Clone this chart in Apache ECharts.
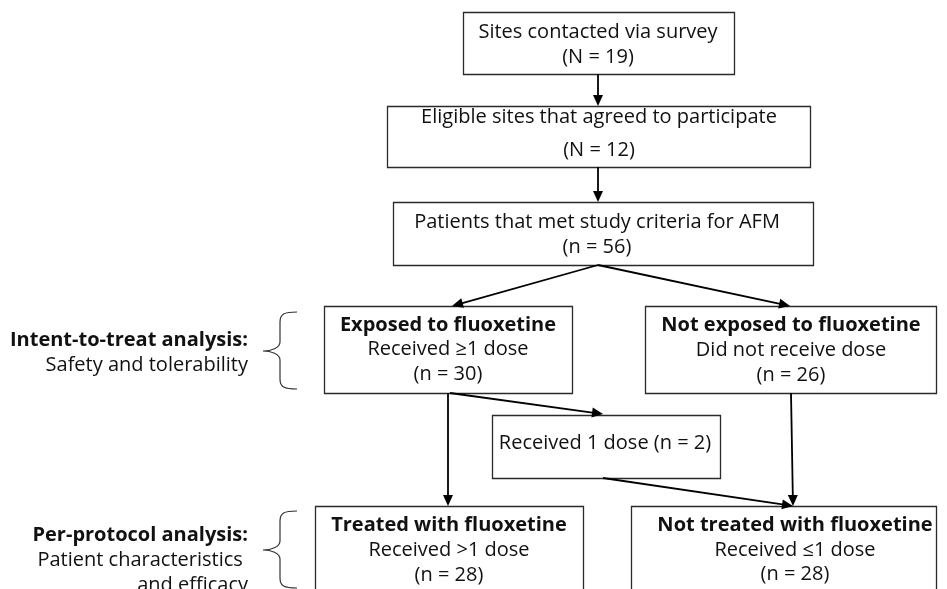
<!DOCTYPE html>
<html>
<head>
<meta charset="utf-8">
<script src="https://cdn.jsdelivr.net/npm/echarts@6/dist/echarts.min.js"></script>
<style>html,body{margin:0;padding:0;background:#fff}#c{width:947px;height:589px}</style>
</head>
<body>
<div id="c"></div>
<script>
// ---- Data (diagram units = axis units) ----
const nodeLines = [
  ['Sites contacted via survey', '(N = 19)'],
  ['Eligible sites that agreed to participate', '(N = 12)'],
  ['Patients that met study criteria for AFM', '(n = 56)'],
  ['Exposed to fluoxetine', 'Received \u22651 dose', '(n = 30)'],
  ['Not exposed to fluoxetine', 'Did not receive dose', '(n = 26)'],
  ['Received 1 dose (n = 2)'],
  ['Treated with fluoxetine', 'Received >1 dose', '(n = 28)'],
  ['Not treated with fluoxetine', 'Received \u22641 dose', '(n = 28)']
];
const nodeBoldFirst = [false, false, false, true, true, false, true, true];
const nodeLeft   = [463, 387, 393, 324, 645, 492, 315, 631];
const nodeTop    = [12, 106, 202, 306, 306, 415, 506, 506];
const nodeRight  = [734, 810, 813, 572, 936, 720, 583, 936];
const nodeBottom = [74, 167, 265, 393, 393, 478, 640, 640];
const nodeTextX  = [598, 599, 597, 448, 791, 605, 449, 795];
const nodeLineY  = [[32, 57], [117, 150], [222, 247], [325, 349, 374], [325, 350, 375], [443], [525, 550, 575], [525, 550, 574]];

const arrows = [
  [598, 74, 598, 106],
  [598, 167, 598, 202],
  [598, 265, 452, 306],
  [598, 265, 790, 306],
  [450, 393, 603, 414],
  [448, 393, 448, 506],
  [791, 393, 793, 506],
  [603, 478, 793, 506]
];

const sideLabels = [
  ['Intent-to-treat analysis:', true, 248, 340],
  ['Safety and tolerability', false, 248, 365],
  ['Per-protocol analysis:', true, 248, 535],
  ['Patient characteristics ', false, 248, 560],
  ['and efficacy', false, 248, 585]
];
// brace: tipX, spineX, endX, top, mid, bottom
const braces = [
  [263, 280, 297, 312, 351, 389],
  [263, 280, 297, 511, 550, 588]
];

const FONT = '"Open Sans", "Noto Sans", sans-serif';
const FS = 20;

const chart = echarts.init(document.getElementById('c'), null, {renderer: 'canvas'});

const option = {
  animation: false,
  grid: {left: 0, right: 0, top: 0, bottom: 0},
  xAxis: {type: 'value', min: 0, max: 947, show: false},
  yAxis: {type: 'value', min: 0, max: 589, inverse: true, show: false},
  series: [
    {
      type: 'custom',
      coordinateSystem: 'cartesian2d',
      data: nodeLines.map((_, i) => [nodeLeft[i], nodeTop[i], nodeRight[i], nodeBottom[i], i]),
      renderItem: function (params, api) {
        const i = api.value(4);
        const p0 = api.coord([api.value(0), api.value(1)]);
        const p1 = api.coord([api.value(2), api.value(3)]);
        const children = [{
          type: 'rect',
          shape: {x: Math.round(p0[0]) + 0.5, y: Math.round(p0[1]) + 0.5, width: Math.round(p1[0] - p0[0]), height: Math.round(p1[1] - p0[1])},
          style: {fill: '#fff', stroke: '#2a2a2a', lineWidth: 1.3}
        }];
        nodeLines[i].forEach((t, k) => {
          const pt = api.coord([nodeTextX[i], nodeLineY[i][k]]);
          children.push({
            type: 'text',
            style: {
              x: pt[0], y: pt[1], text: t,
              font: ((k === 0 && nodeBoldFirst[i]) ? 'bold ' : '') + FS + 'px ' + FONT,
              fill: '#111', align: 'center', verticalAlign: 'middle'
            }
          });
        });
        return {type: 'group', children: children};
      }
    },
    {
      type: 'custom',
      coordinateSystem: 'cartesian2d',
      data: arrows,
      renderItem: function (params, api) {
        const a = api.coord([api.value(0), api.value(1)]);
        const b = api.coord([api.value(2), api.value(3)]);
        const dx = b[0] - a[0], dy = b[1] - a[1];
        const L = Math.sqrt(dx * dx + dy * dy);
        const ux = dx / L, uy = dy / L;
        const hl = 11, hw = 5;
        const bx = b[0] - ux * hl, by = b[1] - uy * hl;
        return {
          type: 'group',
          children: [
            {type: 'line', shape: {x1: a[0], y1: a[1], x2: bx + ux * 2, y2: by + uy * 2}, style: {stroke: '#000', lineWidth: 1.8}},
            {type: 'polygon', shape: {points: [[b[0], b[1]], [bx - uy * hw, by + ux * hw], [bx + uy * hw, by - ux * hw]]}, style: {fill: '#000'}}
          ]
        };
      }
    },
    {
      type: 'custom',
      coordinateSystem: 'cartesian2d',
      data: sideLabels.map((s, i) => [s[2], s[3], i]),
      renderItem: function (params, api) {
        const i = api.value(2);
        const p = api.coord([api.value(0), api.value(1)]);
        return {
          type: 'text',
          style: {
            x: p[0], y: p[1], text: sideLabels[i][0],
            font: (sideLabels[i][1] ? 'bold ' : '') + FS + 'px ' + FONT,
            fill: '#111', align: 'right', verticalAlign: 'middle'
          }
        };
      }
    },
    {
      type: 'custom',
      coordinateSystem: 'cartesian2d',
      data: braces,
      renderItem: function (params, api) {
        const tip = api.value(0), sp = api.value(1), en = api.value(2);
        const yt = api.value(3), ym = api.value(4), yb = api.value(5);
        const c = (x, y) => api.coord([x, y]);
        const P = (x, y) => { const q = c(x, y); return q[0].toFixed(1) + ' ' + q[1].toFixed(1); };
        const d = 'M ' + P(en, yt) +
          ' C ' + P(sp + 4, yt) + ' ' + P(sp, yt + 2) + ' ' + P(sp, yt + 10) +
          ' L ' + P(sp, ym - 9) +
          ' C ' + P(sp, ym - 3) + ' ' + P(tip + 8, ym) + ' ' + P(tip, ym) +
          ' C ' + P(tip + 8, ym) + ' ' + P(sp, ym + 3) + ' ' + P(sp, ym + 9) +
          ' L ' + P(sp, yb - 10) +
          ' C ' + P(sp, yb - 2) + ' ' + P(sp + 4, yb) + ' ' + P(en, yb);
        return {
          type: 'path',
          shape: {pathData: d},
          style: {fill: 'none', stroke: '#333', lineWidth: 1.2}
        };
      }
    }
  ]
};
chart.setOption(option);
</script>
</body>
</html>
